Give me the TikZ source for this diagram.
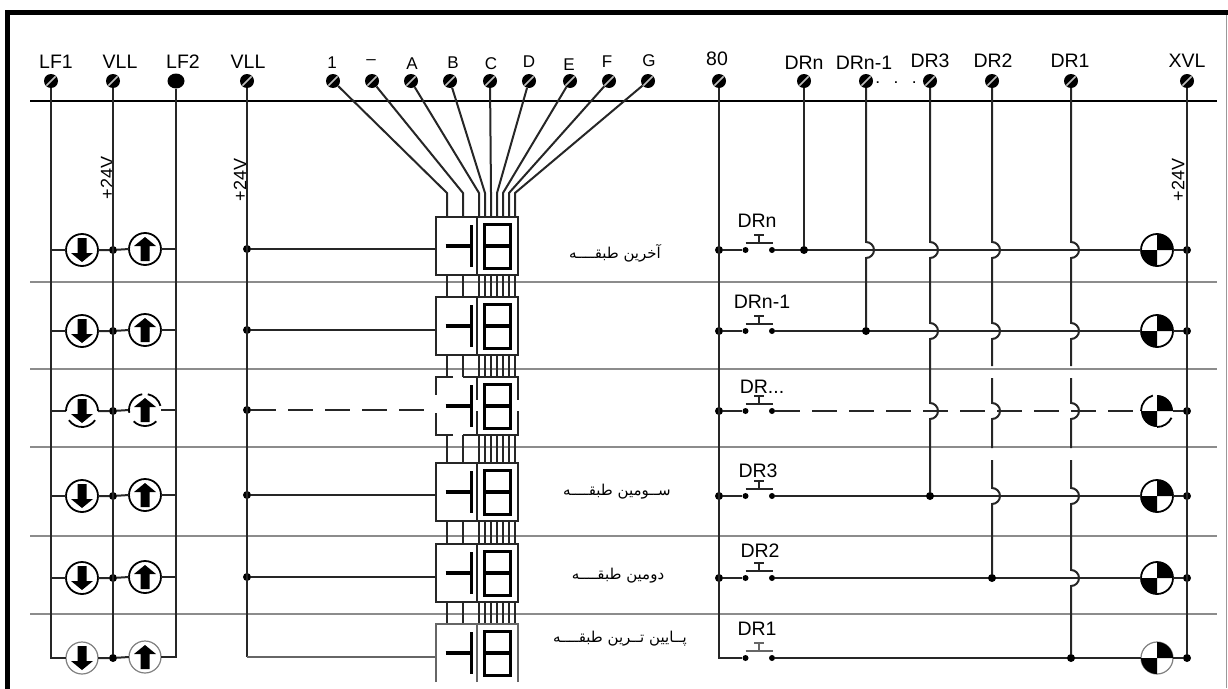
\documentclass[tikz,border=0pt]{standalone}
\usepackage{fontspec}
\setmainfont{Liberation Sans}
\newfontfamily\arabicfont[Script=Arabic]{DejaVu Sans}
\TeXXeTstate=1
\usetikzlibrary{calc,shapes.geometric}
\newcommand{\hopover}[2]{-- ({#1},{#2-8}) arc[start angle=90,end angle=-90,radius=8pt]}
\newcommand{\arrowdown}[1]{\fill (#1.center) ++(-4.5,-12) -- ++(9,0) -- ++(0,15) -- ++(6.5,0) -- ++(-11,9) -- ++(-11,-9) -- ++(6.5,0) -- cycle;}
\newcommand{\arrowup}[1]{\fill (#1.center) ++(-4.5,12) -- ++(9,0) -- ++(0,-15) -- ++(6.5,0) -- ++(-11,-9) -- ++(-11,9) -- ++(6.5,0) -- cycle;}
\newcommand{\quarters}[1]{\fill (#1.center) -- (#1.north) arc[start angle=90,end angle=0,radius=16pt] -- cycle;
	\fill (#1.center) -- (#1.south) arc[start angle=270,end angle=180,radius=16pt] -- cycle;}
\newcommand{\lamparc}[3]{\draw[line width=1.8pt] (#1.center) ++(#2:16pt) arc[start angle=#2,end angle=#3,radius=16pt];}
\tikzset{
	wire/.style={line width=2pt,black!85},
	thinwire/.style={line width=1.2pt,black!60},
	sepline/.style={line width=2pt,black!45},
	dashwire/.style={wire,dash pattern=on 25pt off 12pt},
	pin/.style={circle,fill=black,inner sep=0pt,minimum size=14pt,path picture={\draw[white!75!black,line width=1.6pt,shorten >=3.5pt,shorten <=3.5pt] (path picture bounding box.south west) -- (path picture bounding box.north east);}},
	pinfull/.style={ellipse,fill=black,inner sep=0pt,minimum width=17pt,minimum height=15pt},
	dot/.style={circle,fill=black,inner sep=0pt,minimum size=8pt},
	cornerpt/.style={inner sep=0pt,minimum size=0pt},
	contact/.style={circle,fill=black,inner sep=0pt,minimum size=6pt},
	lamp/.style={circle,draw=black,line width=1.8pt,inner sep=0pt,minimum size=32pt,outer sep=0pt},
	lampfaint/.style={lamp,draw=black!50,line width=1.2pt},
	lampopen/.style={circle,inner sep=0pt,minimum size=32pt,outer sep=0pt},
	cell/.style={rectangle,anchor=north west,inner sep=0pt,outer sep=0pt,minimum width=41pt,minimum height=58pt},
	cellbox/.style={draw=black!85,line width=1.9pt},
	lbl/.style={inner sep=0pt,text=black,font=\fontsize{19.5}{20}\selectfont},
	lblpin/.style={lbl,font=\fontsize{17}{18}\selectfont},
	lbldots/.style={lbl,font=\fontsize{12}{13}\selectfont\bfseries},
	lblvolt/.style={lbl,rotate=90,font=\fontsize{18}{19}\selectfont},
	lblfloor/.style={inner sep=0pt,text=black,font=\fontsize{15}{16}\selectfont\arabicfont},
}
\begin{document}
\begin{tikzpicture}[x=1pt,y=-1pt]
	\useasboundingbox (0,0) rectangle (1228,688);
	\draw[line width=5pt] (7.5,700) -- (7.5,12.5) -- (1228,12.5);
	\draw[line width=0.8pt,black!40] (1226.5,15) -- (1226.5,688);
	\coordinate (busL) at (30,101);
	\coordinate (busR) at (1217,101);
	\draw[line width=1.5pt] (busL) -- (busR);
	\foreach \i/\y in {1/282,2/369,3/447,4/536,5/614} {
		\coordinate (sepL-\i) at (30,\y);
		\coordinate (sepR-\i) at (1217,\y);
		\draw[sepline] (sepL-\i) -- (sepR-\i);
	}
	\foreach \n/\x/\lx/\ly/\t in {LF1/51/56/62/LF1,VLLa/113/120/62/VLL,VLLb/247/248/62/VLL,P80/719/717/59/80,DRn/804/804/63/DRn,DRm/866/864/63/DRn-1,DRc/930/930/61/DR3,DRb/992/993/61/DR2,DRa/1071/1070/61/DR1,XVL/1187/1187/61/XVL} {
		\node[pin] (t\n) at (\x,81) {};
		\node[lbl] (l\n) at (\lx,\ly) {\t};
	}
	\node[pinfull] (tLF2) at (176,81) {};
	\node[lbl] (lLF2) at (183,62) {LF2};
	\node[lbldots] (ldots) at (896,83) {.\hspace{15pt}.\hspace{15pt}.};
	\foreach \k/\x/\w/\lx/\ly/\t in {1/333/447/332/63/1,2/372/463/371/62/--,3/411/479/412/64/A,4/450/485/453/63/B,5/490/491/491/64/C,6/529/497/529/62/D,7/570/503/569/65/E,8/609/509/607/62/F,9/648/515/649/61/G} {
		\node[pin] (pin\k) at (\x,81) {};
		\node[lblpin] (lpin\k) at (\lx,\ly) {\t};
		\coordinate (w\k) at (\w,193);
	}
	\node[lblvolt] (voltA) at (107,178) {+24V};
	\node[lblvolt] (voltB) at (240,180) {+24V};
	\node[lblvolt] (voltC) at (1178,180) {+24V};
	\foreach \i/\y/\t/\s/\e in {1/250/217/lamp/dot,2/331/297/lamp/dot,3/411/377/lampopen/dot,4/496/463/lamp/dot,5/578/544/lamp/dot,6/658/624/lampfaint/cornerpt} {
		\node[\s] (lampD-\i) at (82,\y) {};
		\node[\s] (lampU-\i) at (145,\y-1) {};
		\node[dot] (jV-\i) at (113,\y) {};
		\node[\e] (jB-\i) at (247,\y-1) {};
		\node[cell] (boxL-\i) at (436,\t) {};
		\node[cell] (boxR-\i) at (477,\t) {};
		\node[\e] (j80-\i) at (719,\y) {};
		\node[contact] (sl-\i) at (745.5,\y) {};
		\node[contact] (sr-\i) at (772,\y) {};
		\node[dot] (jX-\i) at (1187,\y) {};
		\node[\s] (lampR-\i) at (1157,\y) {};
	}
	\foreach \i in {1,2,3,4,5} {
		\draw[wire] (tLF1 |- lampD-\i) -- (lampD-\i.west);
		\draw[wire] (lampU-\i.east) -- (tLF2 |- lampU-\i);
		\draw[wire] (j80-\i) -- (sl-\i);
		\draw[wire] (sl-\i.center) ++(0,-7) -- ++(27,0) ++(-13.5,0) -- ++(0,-8) ++(-5,0) -- ++(10,0);
	}
	\draw[thinwire] (sl-6.center) ++(0,-7) -- ++(27,0) ++(-13.5,0) -- ++(0,-8) ++(-5,0) -- ++(10,0);
	\draw[wire] (tLF1) |- (lampD-6.west);
	\draw[wire] (tLF2) |- (lampU-6.east);
	\draw[wire] (tVLLa) -- (jV-6);
	\draw[wire] (tVLLb) -- (jB-6.center);
	\foreach \i in {1,2,3,4,5,6} {
		\draw[wire] (lampD-\i.east) -- (jV-\i) -- (lampU-\i.west);
		\arrowdown{lampD-\i}
		\arrowup{lampU-\i}
		\quarters{lampR-\i}
		\draw[wire] (lampR-\i.east) -- (jX-\i);
	}
	\foreach \i in {1,2,4,5,6} {
		\draw[wire] (sr-\i) -- (lampR-\i.west);
	}
	\draw[dashwire] (sr-3) -- (lampR-3.west);
	\lamparc{lampD-3}{0}{180}
	\lamparc{lampD-3}{215}{325}
	\lamparc{lampU-3}{15}{80}
	\lamparc{lampU-3}{100}{190}
	\lamparc{lampU-3}{225}{315}
	\lamparc{lampR-3}{105}{180}
	\lamparc{lampR-3}{270}{335}
	\foreach \k in {1,2,3,4,5,6,7,8,9} {
		\draw[wire] (pin\k) -- (w\k) -- (w\k |- boxL-1.north);
		\foreach \a/\b in {1/2,2/3,3/4,4/5,5/6}
			\draw[wire] (w\k |- boxL-\a.south) -- (w\k |- boxL-\b.north);
	}
	\foreach \i in {1,2,4,5} {
		\draw[wire] (jB-\i) -- (jB-\i -| boxL-\i.west);
		\draw[cellbox] (boxL-\i.north west) rectangle (boxL-\i.south east);
		\draw[cellbox] (boxR-\i.north west) rectangle (boxR-\i.south east);
	}
	\foreach \i in {1,2,3,4,5,6} {
		\draw[line width=3.2pt] (boxL-\i.center) ++(-11,0) -- ++(25,0);
		\draw[line width=3pt] (boxL-\i.center) ++(14.5,-21) -- ++(0,42);
		\draw[line width=3pt] (boxR-\i.center) ++(-13,-22) rectangle ++(26,44);
		\draw[line width=3.2pt] (boxR-\i.center) ++(-13,0) -- ++(26,0);
	}
	\draw[dashwire] (jB-3) -- (jB-3 -| boxL-3.west);
	\draw[wire]
		(boxL-3.north west) ++(17,0) -- (boxL-3.north west) -- ++(0,18)
		(boxL-3.south west) ++(17,0) -- (boxL-3.south west) -- ++(0,-22)
		(boxL-3.north east) ++(-14,0) -- (boxL-3.north east) -- ++(0,23)
		(boxL-3.south east) ++(-14,0) -- (boxL-3.south east) -- ++(0,-24)
		(boxR-3.north west) -- (boxR-3.north east) -- ++(0,23)
		(boxR-3.south west) -- (boxR-3.south east) -- ++(0,-24);
	\draw[thinwire] (jB-6.center) -- (jB-6 -| boxL-6.west);
	\draw[thinwire]
		(boxL-6.south west) -- (boxL-6.north west) -- (boxL-6.north east)
		(boxL-6.south east) -- (boxL-6.north east)
		(boxR-6.south east) -- (boxR-6.north east) -- (boxR-6.north west);
	\draw[wire] (tP80) |- (sl-6);
	\foreach \i/\x/\y/\n in {1/757/221/DRn,2/762/302/DRn-1,4/758/471/DR3,5/760/551/DR2,6/757/629/DR1} {
		\node[lbl] (lsw-\i) at (\x,\y) {\n};
	}
	\node[lbl] (lsw-3) at (762,387) {DR...};
	\node[dot] (jDRn) at (tDRn |- j80-1) {};
	\node[dot] (jDRm) at (tDRm |- j80-2) {};
	\node[dot] (jDRc) at (tDRc |- j80-4) {};
	\node[dot] (jDRb) at (tDRb |- j80-5) {};
	\node[dot] (jDRa) at (tDRa |- j80-6) {};
	\draw[wire] (tDRn) -- (jDRn);
	\draw[wire] (tDRm) \hopover{866}{250} -- (jDRm);
	\draw[wire] (tDRc) \hopover{930}{250} \hopover{930}{331} \hopover{930}{411} -- (jDRc);
	\draw[wire] (tDRb) \hopover{992}{250} \hopover{992}{331} -- (992,366) (992,378) \hopover{992}{411} -- (992,448) (992,460) \hopover{992}{496} -- (jDRb);
	\draw[wire] (tDRa) \hopover{1071}{250} \hopover{1071}{331} -- (1071,366) (1071,378) \hopover{1071}{411} -- (1071,448) (1071,460) \hopover{1071}{496} \hopover{1071}{578} -- (jDRa);
	\draw[wire] (tXVL) -- (jX-6);
	\node[lblfloor] (floorA) at (615,253) {\beginR آخرین طبقــــه\endR};
	\node[lblfloor] (floorB) at (617,492) {\beginR ســومین طبقــــه\endR};
	\node[lblfloor] (floorC) at (618,576) {\beginR دومین طبقــــه\endR};
	\node[lblfloor] (floorD) at (620,639) {\beginR پــایین تــرین طبقــــه\endR};
\end{tikzpicture}
\end{document}
